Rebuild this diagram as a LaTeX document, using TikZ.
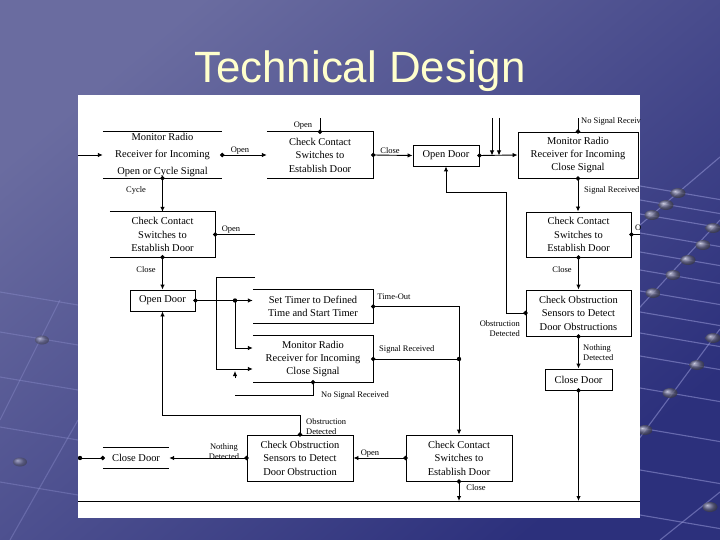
\documentclass[tikz,border=0pt]{standalone}
\usepackage{fontspec}
\setmainfont{Liberation Serif}
\newfontfamily\titlefont{Liberation Sans}
\usetikzlibrary{arrows.meta,calc}
\definecolor{bgA}{RGB}{106,108,160}
\definecolor{bgB}{RGB}{44,48,124}
\definecolor{gridcol}{RGB}{150,152,215}
\definecolor{ballcol}{RGB}{128,128,150}
\definecolor{titlecol}{RGB}{255,255,204}
\tikzset{
  box/.style={rectangle, inner sep=0pt, align=center, font=\fontsize{10.5}{13.5}\selectfont},
  fullbox/.style={box, draw, line width=0.9bp},
  lbl/.style={inner sep=0pt, font=\fontsize{8.5}{10}\selectfont},
  seg/.style={line width=0.9bp},
  conn/.style={seg, shorten <=-2.2bp, {Circle[length=4.4bp]}-{Latex[length=5bp,width=4.5bp]}},
  connout/.style={seg, shorten <=-2.2bp, {Circle[length=4.4bp]}-},
  connin/.style={seg, -{Latex[length=5bp,width=4.5bp]}},
  jdot/.style={circle, fill, inner sep=0pt, minimum size=4.4bp},
  gridline/.style={draw=gridcol, line width=1.1bp, opacity=0.55},
  ball/.style={ball color=ballcol, opacity=0.75},
}
\begin{document}
\begin{tikzpicture}[x=1bp,y=-1bp]
\useasboundingbox (0,0) rectangle (720,540);
\shade[shading=axis, top color=bgA, bottom color=bgB, shading angle=40] (0,0) rectangle (720,540);
% background perspective grid (right margin)
\begin{scope}
\clip (600,150) rectangle (720,540);
\foreach \yy in {186,200,214,233,252,270,291,312,333,356,388,428,470,515}
  \draw[gridline] (600,{\yy-6.8}) -- (720,{\yy+13.6});
\draw[gridline] (630,233.5) -- (720,157);
\draw[gridline] (630,318) -- (720,220);
\draw[gridline] (630,451) -- (720,329);
\draw[gridline] (660,540) -- (720,492);
\foreach \bx/\by in {678/193,666/205,652/215,713/228,703/245,688/260,673/275,653/293,713/338,697/365,670/393,645/430,710/507}
  \shade[ball] (\bx,\by) ellipse (7.5 and 5);
\end{scope}
% faint grid (left margin)
\begin{scope}
\clip (0,280) rectangle (78,540);
\foreach \yy in {300,340,385,435,490}
  \draw[gridline, opacity=0.35] (0,{\yy-8}) -- (78,{\yy+5});
\draw[gridline, opacity=0.35] (0,420) -- (60,300);
\draw[gridline, opacity=0.35] (10,540) -- (78,420);
\foreach \bx/\by in {42/340,20/462}
  \shade[ball, opacity=0.55] (\bx,\by) ellipse (7 and 4.5);
\end{scope}
\node[font=\titlefont\fontsize{44}{50}\selectfont, text=titlecol, anchor=base, inner sep=0pt] (title) at (360,83) {Technical Design};
\fill[white] (78,95) rectangle (640,518);
\begin{scope}
\clip (78,95) rectangle (640,518);
% boxes
\node[box, minimum width=119bp, minimum height=46bp, font=\fontsize{10.5}{17}\selectfont] (A) at (162.5,155) {Monitor Radio\\Receiver for Incoming\\Open or Cycle Signal};
\node[box, minimum width=106bp, minimum height=46bp] (B) at (320,155) {Check Contact\\Switches to\\Establish Door};
\node[fullbox, minimum width=66bp, minimum height=21bp] (C) at (446,155.5) {Open Door};
\node[fullbox, minimum width=120bp, minimum height=46bp] (D) at (578,155) {Monitor Radio\\Receiver for Incoming\\Close Signal};
\node[box, minimum width=105bp, minimum height=45bp] (E) at (162.5,234.5) {Check Contact\\Switches to\\Establish Door};
\node[fullbox, minimum width=65bp, minimum height=21bp] (F) at (162.5,300.5) {Open Door};
\node[box, minimum width=120bp, minimum height=33bp] (G) at (313,306.5) {Set Timer to Defined\\Time and Start Timer};
\node[box, minimum width=120bp, minimum height=46bp] (H) at (313,359) {Monitor Radio\\Receiver for Incoming\\Close Signal};
\node[fullbox, minimum width=105bp, minimum height=45bp] (I) at (578.5,234.5) {Check Contact\\Switches to\\Establish Door};
\node[fullbox, minimum width=105bp, minimum height=46bp] (J) at (578.5,313) {Check Obstruction\\Sensors to Detect\\Door Obstructions};
\node[fullbox, minimum width=67bp, minimum height=21bp] (K) at (578.5,379.5) {Close Door};
\node[box, minimum width=66bp, minimum height=20bp] (L) at (136,458) {Close Door};
\node[fullbox, minimum width=106bp, minimum height=46bp] (M) at (300,458) {Check Obstruction\\Sensors to Detect\\Door Obstruction};
\node[fullbox, minimum width=106bp, minimum height=46bp] (N) at (459,458) {Check Contact\\Switches to\\Establish Door};
% partial box sides
\draw[seg] (A.north west) -- (A.north east) (A.south west) -- (A.south east);
\draw[seg] (B.north west) -- (B.north east) -- (B.south east) -- (B.south west);
\draw[seg] (E.north west) -- (E.north east) -- (E.south east) -- (E.south west);
\draw[seg] (G.north west) -- (G.north east) -- (G.south east) -- (G.south west);
\draw[seg] (H.north west) -- (H.north east) -- (H.south east) -- (H.south west);
\draw[seg] (L.north west) -- (L.north east) (L.south west) -- (L.south east);
% free ends
\coordinate (inA) at (78,155);
\coordinate (Btop) at (320,118);
\coordinate (cJ) at (506,192);
\coordinate (d1) at (492,118);
\coordinate (d2) at (499,118);
\coordinate (Dtop) at (578,118);
\coordinate (Iout) at (641,234.5);
\coordinate (BL1) at (78,501);
\coordinate (BL2) at (640,501);
\coordinate (Eout) at (255,234.5);
\coordinate (j1) at (235,300.5);
\coordinate (Hup) at ($(H.west)+(0,-11)$);
\coordinate (t1) at (255,277);
\coordinate (t2) at (216,277);
\coordinate (Hlo) at ($(H.west)+(0,10)$);
\coordinate (tri) at (235,378);
\coordinate (tri2) at (235,371);
\coordinate (nsr) at (235,395);
\coordinate (mo) at (300,415);
\coordinate (Lout) at (80,458);
% connectors
\draw[connin] (inA) -- (A.west);
\draw[conn] (A.east) -- (B.west);
\draw[conn] (A.south) -- (E.north);
\draw[connout] (B.north) -- (Btop);
\draw[conn] (B.east) -- (C.west);
\draw[conn] (J.west) -| (cJ) -| (C.south);
\draw[conn] (C.east) -- (D.west);
\draw[connin] (d1) -- (d1 |- C.east);
\draw[connin] (d2) -- (d2 |- C.east);
\draw[connout] (D.north) -- (Dtop);
\draw[conn] (D.south) -- (D.south |- I.north);
\draw[connout] (I.east) -- (Iout);
\draw[conn] (I.south) -- (J.north);
\draw[conn] (J.south) -- (K.north);
\draw[seg] (BL1) -- (BL2);
\draw[conn] (K.south) -- (K.south |- BL1);
\draw[connout] (E.east) -- (Eout);
\draw[conn] (E.south) -- (F.north);
\draw[conn] (F.east) -- (G.west |- F.east);
\node[jdot] (jd1) at (j1) {};
\draw[connin] (j1) |- (Hup);
\draw[connin] (t1) -- (t2) |- (Hlo);
\draw[connin] (tri) -- (tri2);
\draw[connout] (H.south) |- (nsr);
\draw[conn] (G.east) -| (N.north);
\draw[connout] (H.east) -- (H.east -| N.north);
\node[jdot] (jd2) at (H.east -| N.north) {};
\draw[conn] (N.west) -- (M.east);
\draw[conn] (N.south) -- (N.south |- BL1);
\draw[conn] (M.north) -- (mo) -| (F.south);
\draw[conn] (M.west) -- (L.east);
\draw[connout] (L.west) -- (Lout);
\node[jdot] (jd3) at (Lout) {};
% labels
\node[lbl] (l1) at (240,151) {Open};
\node[lbl] (l2) at (136,190) {Cycle};
\node[lbl] (l3) at (303,126) {Open};
\node[lbl] (l4) at (390,151) {Close};
\node[lbl, anchor=west] (l5) at (581,121) {No Signal Received};
\node[lbl, anchor=west] (l6) at (584,190) {Signal Received};
\node[lbl, anchor=west] (l7) at (635,229) {Open};
\node[lbl] (l8) at (231,230) {Open};
\node[lbl] (l9) at (146,270) {Close};
\node[lbl] (l10) at (562,270) {Close};
\node[lbl, align=right, anchor=east] (l11) at (520,329) {Obstruction\\Detected};
\node[lbl, align=left, anchor=west] (l12) at (583,353) {Nothing\\Detected};
\node[lbl] (l13) at (394,297) {Time-Out};
\node[lbl, anchor=west] (l14) at (379,349) {Signal Received};
\node[lbl, anchor=west] (l15) at (321,395) {No Signal Received};
\node[lbl, align=left, anchor=west] (l16) at (306,427) {Obstruction\\Detected};
\node[lbl] (l17) at (370,454) {Open};
\node[lbl, align=center] (l18) at (224,452) {Nothing\\Detected};
\node[lbl] (l19) at (476,488) {Close};
\end{scope}
\end{tikzpicture}
\end{document}
